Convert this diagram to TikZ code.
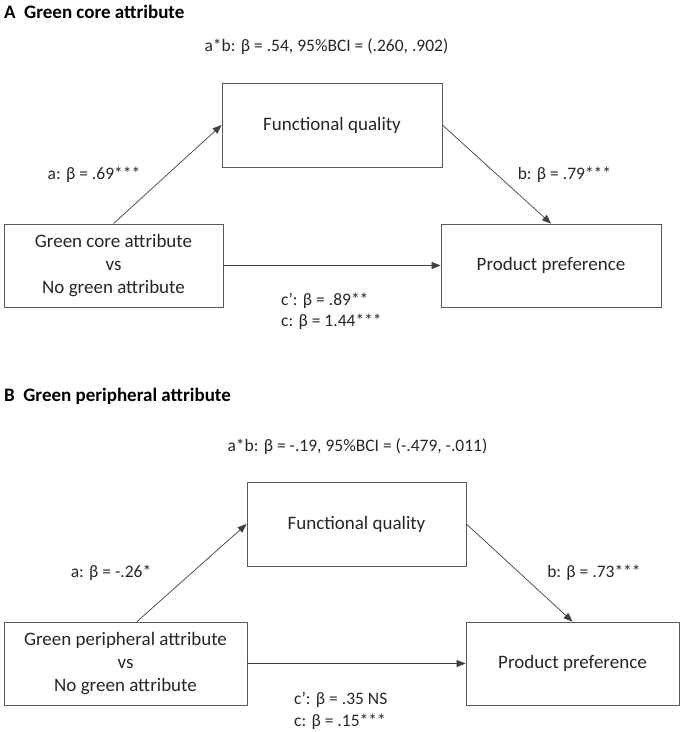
\documentclass[tikz,border=0pt]{standalone}
\usepackage{fontspec}
\setmainfont{Carlito}
\usetikzlibrary{arrows.meta,calc}
\begin{document}
\begin{tikzpicture}[x=1pt,y=-1pt,
  every node/.style={font=\fontsize{19}{23}\selectfont, inner sep=0pt, text=black!85},
  box/.style={draw=black!65, line width=0.8pt, align=center},
  conn/.style={draw=black!75, line width=0.7pt, -{Triangle[length=9pt,width=7pt]}},
  ttl/.style={font=\fontsize{19}{23}\selectfont\bfseries, anchor=west, text=black},
  lbl/.style={font=\fontsize{17.5}{21}\selectfont},
  cl/.style={lbl, anchor=west}]
\useasboundingbox (0,0) rectangle (685,732);

% ---------- Panel A ----------
\node[ttl] (tA) at (4,12) {A\hspace{0.45em}Green core attribute};
\node[lbl] (abA) at (326.5,46.5) {a*b: β = .54, 95\%BCI = (.260, .902)};

\node[box, minimum width=220pt, minimum height=84pt] (fqA) at (332,125) {Functional quality};
\node[box, minimum width=219pt, minimum height=83pt] (xA) at (113.5,265.5) {Green core attribute\\vs\\No green attribute};
\node[box, minimum width=220pt, minimum height=83pt] (ppA) at (551,265.5) {Product preference};

\draw[conn] (xA.north) -- (fqA.west);
\draw[conn] (fqA.east) -- (ppA.north);
\draw[conn] (xA.east) -- (ppA.west);

\node[lbl] (aA) at (94,175) {a: β = .69***};
\node[lbl] (bA) at (564.5,175) {b: β = .79***};
\node[cl] (cpA) at (281,301) {c’: β = .89**};
\node[cl] (cA) at (281,322) {c: β = 1.44***};

% ---------- Panel B ----------
\node[ttl] (tB) at (4,396.5) {B\hspace{0.45em}Green peripheral attribute};
\node[lbl] (abB) at (357.5,446.5) {a*b: β = -.19, 95\%BCI = (-.479, -.011)};

\node[box, minimum width=219pt, minimum height=84pt] (fqB) at (356.5,524) {Functional quality};
\node[box, minimum width=243pt, minimum height=83pt] (xB) at (125.5,663.5) {Green peripheral attribute\\vs\\No green attribute};
\node[box, minimum width=213pt, minimum height=83pt] (ppB) at (572.5,663.5) {Product preference};

\draw[conn] ([xshift=11.5pt]xB.north) -- (fqB.west);
\draw[conn] (fqB.east) -- (ppB.north);
\draw[conn] (xB.east) -- (ppB.west);

\node[lbl] (aB) at (111,573) {a: β = -.26*};
\node[lbl] (bB) at (594,573) {b: β = .73***};
\node[cl] (cpB) at (294,700) {c’: β = .35 NS};
\node[cl] (cB) at (294,722) {c: β = .15***};
\end{tikzpicture}
\end{document}
